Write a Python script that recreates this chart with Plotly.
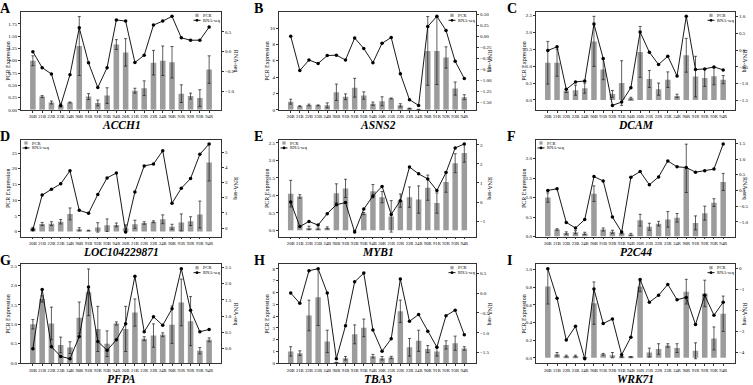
import plotly.graph_objects as go

W, H = 753, 385
SERIF = "Liberation Serif, Times New Roman, serif"

categories = ["20B", "21B", "22B", "23B", "24B", "90B", "91B", "92B", "93B", "94B",
              "20R", "21R", "22R", "23R", "24R", "90R", "91R", "92R", "93R", "94R"]
genes = ["ACCH1", "ASNS2", "DCAM", "LOC104229871", "MYB1", "P2C44", "PFPA", "TBA3", "WRK71"]
panel_letters = ["A", "B", "C", "D", "E", "F", "G", "H", "I"]
legend_labels = ["PCR", "RNA-seq"]

acch1_pcr = [1.00, 0.27, 0.15, 0.09, 0.15, 1.30, 0.27, 0.14, 0.29, 1.33, 1.17, 0.39, 0.44, 0.96, 1.00, 0.97, 0.33, 0.28, 0.24, 0.82]
acch1_err = [0.10, 0.02, 0.03, 0.03, 0.01, 0.60, 0.06, 0.06, 0.16, 0.10, 0.28, 0.05, 0.15, 0.25, 0.30, 0.32, 0.18, 0.06, 0.17, 0.28]
acch1_rna = [0.00, -0.40, -0.56, -1.35, -0.58, 0.60, -0.28, -0.90, -0.40, 0.80, 0.77, -0.27, -0.09, 0.67, 0.77, 0.89, 0.35, 0.29, 0.29, 0.62]

asns2_pcr = [1.0, 0.45, 0.6, 0.55, 0.55, 2.15, 1.6, 2.7, 1.75, 0.75, 1.05, 1.4, 0.55, 0.15, 0.05, 7.2, 7.2, 6.4, 2.6, 1.55]
asns2_err = [0.3, 0.05, 0.1, 0.05, 0.3, 1.0, 0.35, 1.15, 0.45, 0.2, 0.55, 0.05, 0.2, 0.05, 0.02, 4.2, 4.1, 1.3, 0.8, 0.3]
asns2_rna = [0.0, -0.78, -0.54, -0.62, -0.44, -0.43, -0.54, -0.04, -0.28, -0.60, -0.16, -0.03, -0.85, -1.44, -1.57, 0.22, 0.45, 0.13, -0.57, -0.96]

dcam_pcr = [1.10, 1.10, 0.27, 0.29, 0.35, 1.73, 0.90, 0.18, 0.50, 0.05, 1.42, 0.62, 0.32, 0.60, 0.12, 1.32, 0.69, 0.65, 0.70, 0.60]
dcam_err = [0.63, 0.40, 0.05, 0.15, 0.15, 0.74, 0.30, 0.10, 0.66, 0.03, 0.75, 0.25, 0.18, 0.23, 0.05, 0.50, 0.60, 0.25, 0.25, 0.12]
dcam_rna = [-0.01, 0.10, -1.17, -0.95, -0.92, 0.78, -0.25, -1.65, -1.55, -1.12, 0.54, -0.06, -0.43, -0.18, -0.77, 1.01, -0.58, -0.56, -0.50, -0.59]

loc_pcr = [1.0, 2.4, 2.5, 3.1, 5.6, 0.7, 0.3, 1.3, 2.0, 2.1, 1.0, 2.3, 2.7, 3.1, 3.9, 1.5, 2.9, 3.3, 5.4, 22.0]
loc_err = [0.3, 0.5, 0.6, 0.7, 1.9, 0.5, 0.1, 1.5, 2.0, 0.6, 1.1, 1.3, 0.4, 0.3, 1.4, 0.8, 2.7, 1.4, 4.3, 5.9]
loc_rna = [-0.10, 2.17, 2.55, 2.91, 3.77, 1.17, 0.98, 2.21, 3.30, 3.62, -0.26, 2.38, 4.09, 4.21, 5.09, 1.64, 2.62, 3.26, 4.85, 5.53]

myb1_pcr = [1.05, 0.97, 0.07, 0.05, 0.07, 1.06, 1.20, 0.0, 0.48, 1.12, 0.95, 0.40, 0.85, 0.95, 0.88, 1.22, 0.78, 1.38, 1.92, 2.21]
myb1_err = [0.38, 0.05, 0.05, 0.02, 0.03, 0.27, 0.26, 0.0, 0.03, 0.19, 0.16, 0.45, 0.19, 0.29, 0.39, 0.36, 0.29, 0.29, 0.27, 0.26]
myb1_rna = [0.0, -1.29, -1.02, -1.21, -0.61, -0.14, -0.03, -1.58, -0.37, 0.32, 0.82, -0.65, 0.07, 1.84, 1.48, 1.21, 0.61, 1.55, 2.84, 3.05]

p2c44_pcr = [1.0, 0.18, 0.09, 0.11, 0.08, 1.10, 0.18, 0.12, 0.09, 0.05, 0.42, 0.25, 0.33, 0.44, 0.48, 1.75, 0.35, 0.60, 0.87, 1.40]
p2c44_err = [0.12, 0.02, 0.03, 0.04, 0.03, 0.20, 0.04, 0.04, 0.02, 0.03, 0.15, 0.09, 0.06, 0.20, 0.11, 0.62, 0.18, 0.18, 0.10, 0.22]
p2c44_rna = [0.0, 0.05, -1.02, -1.20, -0.93, 0.44, 0.30, -0.85, -1.33, 0.42, 0.60, 0.18, 0.43, 0.94, 0.75, 0.73, 0.58, 0.63, 0.68, 1.48]

pfpa_pcr = [1.0, 1.65, 1.02, 0.47, 0.40, 1.17, 1.82, 0.88, 0.50, 1.02, 0.88, 1.30, 0.63, 0.71, 0.73, 0.99, 1.56, 1.08, 0.32, 0.60]
pfpa_err = [0.12, 0.08, 0.42, 0.20, 0.15, 0.40, 0.60, 0.58, 0.33, 0.04, 0.58, 0.35, 0.05, 0.30, 0.05, 0.48, 0.60, 0.63, 0.08, 0.05]
pfpa_rna = [0.0, 1.82, 0.06, -0.24, -0.31, 0.37, 1.90, 0.22, -0.05, 0.27, 0.77, 2.23, 0.52, 0.98, 0.72, 1.23, 2.46, 1.18, 0.52, 0.59]

tba3_pcr = [1.0, 0.85, 4.05, 5.6, 1.85, 0.05, 0.42, 2.45, 3.0, 0.6, 0.42, 0.48, 4.4, 1.35, 1.9, 1.2, 1.0, 1.55, 1.7, 1.25]
tba3_err = [0.4, 0.2, 1.3, 2.4, 0.95, 0.03, 0.15, 0.8, 0.75, 0.15, 0.15, 0.1, 0.95, 0.75, 0.9, 0.3, 0.4, 0.35, 0.6, 0.15]
tba3_rna = [0.0, -0.26, 0.56, 0.61, 0.0, -1.65, -0.82, 0.28, 0.50, -0.93, -1.46, -1.15, 0.35, -0.71, -0.54, -0.96, -1.36, -0.57, -0.43, -1.05]

wrk71_pcr = [0.81, 0.04, 0.02, 0.02, 0.003, 0.62, 0.04, 0.03, 0.01, 0.01, 0.81, 0.06, 0.10, 0.14, 0.11, 0.75, 0.08, 0.73, 0.22, 0.50]
wrk71_err = [0.20, 0.02, 0.01, 0.01, 0.002, 0.24, 0.01, 0.03, 0.005, 0.005, 0.06, 0.05, 0.06, 0.02, 0.05, 0.14, 0.09, 0.15, 0.13, 0.20]
wrk71_rna = [0.0, -1.41, -3.41, -2.75, -4.30, -0.97, -2.62, -2.40, -4.11, -3.27, -0.52, -1.60, -1.27, -0.75, -1.48, -1.37, -2.67, -1.27, -2.22, -1.60]

pcr_values = [acch1_pcr, asns2_pcr, dcam_pcr, loc_pcr, myb1_pcr, p2c44_pcr, pfpa_pcr, tba3_pcr, wrk71_pcr]
pcr_errors = [acch1_err, asns2_err, dcam_err, loc_err, myb1_err, p2c44_err, pfpa_err, tba3_err, wrk71_err]
rna_values = [acch1_rna, asns2_rna, dcam_rna, loc_rna, myb1_rna, p2c44_rna, pfpa_rna, tba3_rna, wrk71_rna]

left_ticks = [
    [0, 0.25, 0.5, 0.75, 1.0, 1.25, 1.5, 1.75, 2.0],
    [0, 2, 4, 6, 8, 10],
    [0, 0.5, 1.0, 1.5, 2.0, 2.5],
    [0, 5, 10, 15, 20, 25],
    [0, 0.5, 1.0, 1.5, 2.0, 2.5],
    [0, 0.5, 1.0, 1.5, 2.0],
    [0, 0.5, 1.0, 1.5, 2.0, 2.5],
    [0, 1, 2, 3, 4, 5, 6, 7, 8],
    [0, 0.2, 0.4, 0.6, 0.8, 1.0],
]
left_fmt = [".2f", "d", ".1f", "d", ".1f", ".1f", ".1f", "d", ".1f"]
right_ticks = [
    [-1.0, -0.5, 0.0, 0.5],
    [-1.5, -1.25, -1.0, -0.75, -0.5, -0.25, 0.0, 0.25, 0.5],
    [-1.5, -1.0, -0.5, 0.0, 0.5, 1.0],
    [0, 1, 2, 3, 4, 5],
    [-1, 0, 1, 2, 3],
    [-1.0, -0.5, 0.0, 0.5, 1.0, 1.5],
    [0.0, 0.5, 1.0, 1.5, 2.0, 2.5],
    [-1.5, -1.0, -0.5, 0.0, 0.5],
    [-4, -3, -2, -1, 0],
]
right_fmt = [".1f", ".2f", ".1f", "d", "d", ".1f", ".1f", ".1f", "d"]
legend_side = ["right", "right", "right", "left", "left", "left", "right", "right", "right"]

# layout geometry (pixels)
col_px = [(21, 221), (279, 476), (536, 735)]
row_px = [(11, 110), (140, 238), (266, 366)]
ylab_left_px = [8, 267, 524]
ylab_right_px = [236, 490, 745]
letter_px = [-1, 253, 506]

BAR_W = 0.6
BAR_COLOR = "#9c9c9c"


def px_x(p):
    return p / W


def px_y(p):
    return 1 - p / H


def bar_range(v, e):
    lo = min(0, min(a - b for a, b in zip(v, e)))
    hi = max(a + b for a, b in zip(v, e))
    pad = 0.05 * (hi - lo)
    return [lo - pad if lo < 0 else 0, hi + pad]


def line_range(v):
    lo, hi = min(v), max(v)
    pad = 0.05 * (hi - lo)
    return [lo - pad, hi + pad]


n = len(categories)
xlo, xhi = -BAR_W / 2, n - 1 + BAR_W / 2
xpad = 0.05 * (xhi - xlo)
x_range = [xlo - xpad, xhi + xpad]

fig = go.Figure()
layout = dict(
    width=W, height=H, margin=dict(l=0, r=0, t=0, b=0),
    paper_bgcolor="white", plot_bgcolor="white",
    font=dict(family=SERIF, size=5, color="black"),
    showlegend=False, barmode="overlay",
)
annotations = []
shapes = []
axis_line = dict(showline=True, linecolor="#333333", linewidth=0.8, ticks="outside",
                 ticklen=2, tickwidth=0.6, tickcolor="#333333", showgrid=False, zeroline=False,
                 tickfont=dict(family=SERIF, size=5, color="black"))

for i in range(9):
    r, c = divmod(i, 3)
    k = i + 1
    xname = "x" if k == 1 else f"x{k}"
    xkey = "xaxis" if k == 1 else f"xaxis{k}"
    yl = 2 * i + 1
    yr = 2 * i + 2
    ylname = "y" if yl == 1 else f"y{yl}"
    ylkey = "yaxis" if yl == 1 else f"yaxis{yl}"
    yrname = f"y{yr}"
    yrkey = f"yaxis{yr}"

    x0, x1 = col_px[c]
    y0, y1 = row_px[r]
    xdom = [px_x(x0), px_x(x1)]
    ydom = [px_y(y1), px_y(y0)]

    fig.add_trace(go.Bar(
        x=categories, y=pcr_values[i], width=BAR_W, name=legend_labels[0],
        marker=dict(color=BAR_COLOR, line=dict(width=0)),
        error_y=dict(type="data", array=pcr_errors[i], color="#1a1a1a", thickness=0.7, width=1.5),
        xaxis=xname, yaxis=ylname,
    ))
    fig.add_trace(go.Scatter(
        x=categories, y=rna_values[i], mode="lines+markers", name=legend_labels[1],
        line=dict(color="black", width=0.9), marker=dict(color="black", size=3.5),
        xaxis=xname, yaxis=yrname,
    ))

    layout[xkey] = dict(axis_line, domain=xdom, anchor=ylname, type="category",
                        range=x_range, mirror=True, tickmode="array",
                        tickvals=categories, ticktext=categories, tickangle=0,
                        tickfont=dict(family=SERIF, size=4.6, color="black"))
    layout[ylkey] = dict(axis_line, domain=ydom, anchor=xname, side="left",
                         range=bar_range(pcr_values[i], pcr_errors[i]), mirror=True,
                         tickmode="array", tickvals=left_ticks[i], tickformat=left_fmt[i])
    layout[yrkey] = dict(axis_line, domain=ydom, anchor=xname, side="right",
                         overlaying=ylname, range=line_range(rna_values[i]),
                         tickmode="array", tickvals=right_ticks[i], tickformat=right_fmt[i])

    # legend block (symbols as shapes, labels as text)
    sym_cx = (x1 - 24) if legend_side[i] == "right" else (x0 + 5)
    txt_x = sym_cx + 4
    ly1 = y0 + 3.5
    ly2 = y0 + 8.5
    shapes.append(dict(type="rect", xref="paper", yref="paper",
                       x0=px_x(sym_cx - 1.6), x1=px_x(sym_cx + 1.6),
                       y0=px_y(ly1 + 1.6), y1=px_y(ly1 - 1.6),
                       fillcolor=BAR_COLOR, line=dict(width=0)))
    shapes.append(dict(type="line", xref="paper", yref="paper",
                       x0=px_x(sym_cx - 3.5), x1=px_x(sym_cx + 3.5),
                       y0=px_y(ly2), y1=px_y(ly2), line=dict(color="black", width=0.9)))
    shapes.append(dict(type="circle", xref="paper", yref="paper",
                       x0=px_x(sym_cx - 1.4), x1=px_x(sym_cx + 1.4),
                       y0=px_y(ly2 + 1.4), y1=px_y(ly2 - 1.4),
                       fillcolor="black", line=dict(width=0)))
    for lab, ly in zip(legend_labels, [ly1, ly2]):
        annotations.append(dict(text=lab, x=px_x(txt_x), y=px_y(ly), xref="paper", yref="paper",
                                xanchor="left", yanchor="middle", showarrow=False,
                                font=dict(family=SERIF, size=4.5, color="black")))

    # gene title (below tick labels)
    annotations.append(dict(text=f"<b><i>{genes[i]}</i></b>", x=px_x((x0 + x1) / 2), y=px_y(y1 + 7.5),
                            xref="paper", yref="paper", xanchor="center", yanchor="top",
                            showarrow=False, font=dict(family=SERIF, size=11.5, color="black")))
    # panel letter
    annotations.append(dict(text=f"<b>{panel_letters[i]}</b>", x=px_x(letter_px[c]), y=px_y(row_px[r][0] - 12),
                            xref="paper", yref="paper", xanchor="left", yanchor="top", borderpad=0,
                            showarrow=False, font=dict(family=SERIF, size=14, color="black")))
    # axis titles
    annotations.append(dict(text="PCR Expression", x=px_x(ylab_left_px[c]), y=px_y((y0 + y1) / 2),
                            xref="paper", yref="paper", xanchor="center", yanchor="middle",
                            textangle=-90, showarrow=False,
                            font=dict(family=SERIF, size=6, color="black")))
    annotations.append(dict(text="RNA-seq", x=px_x(ylab_right_px[c]), y=px_y((y0 + y1) / 2),
                            xref="paper", yref="paper", xanchor="center", yanchor="middle",
                            textangle=90, showarrow=False,
                            font=dict(family=SERIF, size=6, color="black")))

layout["annotations"] = annotations
layout["shapes"] = shapes
fig.update_layout(**layout)
fig.write_html("out.html")
